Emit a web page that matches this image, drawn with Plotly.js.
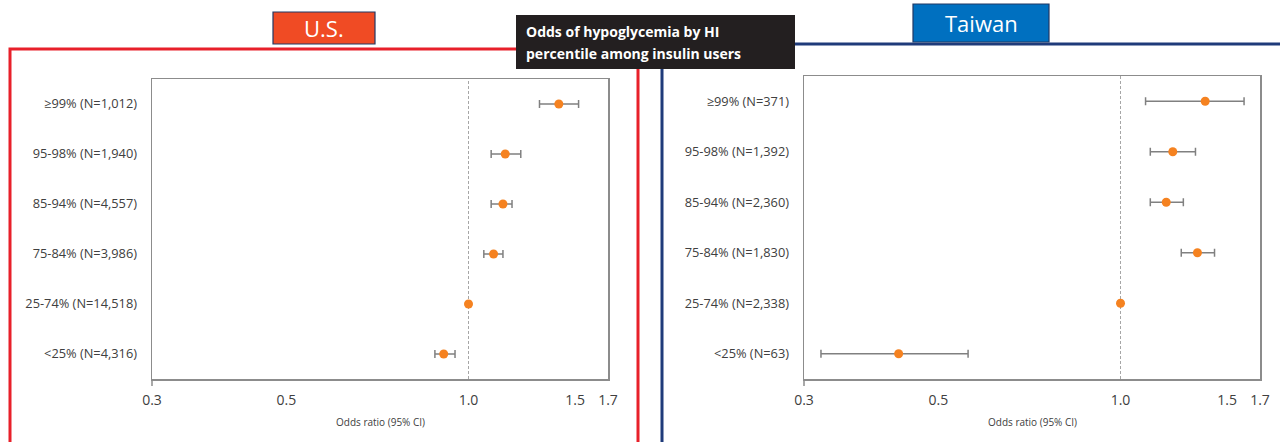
<!DOCTYPE html>
<html>
<head>
<meta charset="utf-8">
<script src="https://cdn.plot.ly/plotly-3.0.1.min.js"></script>
<style>
  html, body { margin: 0; padding: 0; background: #ffffff; }
  #chart { width: 1280px; height: 442px; }
</style>
</head>
<body>
<div id="chart"></div>
<script>
// ---------- data ----------
const categories = ['≥99%', '95-98%', '85-94%', '75-84%', '25-74%', '<25%'];

const usN  = ['1,012', '1,940', '4,557', '3,986', '14,518', '4,316'];
const usOR = [1.41, 1.15, 1.14, 1.10, 1.00, 0.91];
const usLo = [1.31, 1.09, 1.09, 1.06, 1.00, 0.88];
const usHi = [1.52, 1.22, 1.18, 1.14, 1.00, 0.95];

const twN  = ['371', '1,392', '2,360', '1,830', '2,338', '63'];
const twOR = [1.38, 1.22, 1.19, 1.34, 1.00, 0.43];
const twLo = [1.10, 1.12, 1.12, 1.26, 1.00, 0.32];
const twHi = [1.60, 1.33, 1.27, 1.43, 1.00, 0.56];

const refOR = 1.0;
const xTickVals = [0.3, 0.5, 1.0, 1.5, 1.7];
const xTickText = ['0.3', '0.5', '1.0', '1.5', '1.7'];
const xMin = 0.3, xMax = 1.7;
const xTitle = 'Odds ratio (95% CI)';
const panelNames = ['U.S.', 'Taiwan'];
const boxLine1 = 'Odds of hypoglycemia by HI';
const boxLine2 = 'percentile among insulin users';

// ---------- helpers ----------
const W = 1280, H = 442;
const px = v => v / W;
const py = v => 1 - v / H;

const usLabels = categories.map((c, i) => `${c} (N=${usN[i]})`);
const twLabels = categories.map((c, i) => `${c} (N=${twN[i]})`);

const ORANGE = '#f58220';
const GREY = '#808080';
const FRAME = '#8c8c8c';
const TXT = '#404040';
const FONT = 'Open Sans, sans-serif';

function pointTrace(orv, lo, hi, labels, xa, ya) {
  return {
    type: 'scatter', mode: 'markers',
    x: orv, y: labels, xaxis: xa, yaxis: ya,
    marker: { color: ORANGE, size: 9, line: { width: 0 } },
    error_x: {
      type: 'data', symmetric: false,
      array: hi.map((h, i) => h - orv[i]),
      arrayminus: lo.map((l, i) => orv[i] - l),
      color: GREY, thickness: 1.5, width: 4
    },
    hoverinfo: 'x+y', showlegend: false, cliponaxis: false
  };
}
function refTrace(xa, ya) {
  return {
    type: 'scatter', mode: 'lines',
    x: [refOR, refOR], y: [0, 1], xaxis: xa, yaxis: ya,
    line: { color: '#a6a6a6', width: 1, dash: '3px,2px' },
    hoverinfo: 'skip', showlegend: false
  };
}

const data = [
  refTrace('x', 'y'),
  pointTrace(usOR, usLo, usHi, usLabels, 'x', 'y3'),
  refTrace('x2', 'y2'),
  pointTrace(twOR, twLo, twHi, twLabels, 'x2', 'y4')
];

function xAxis(domain, anchor) {
  return {
    domain: domain, anchor: anchor, type: 'log',
    range: [Math.log10(xMin), Math.log10(xMax)],
    tickmode: 'array', tickvals: xTickVals, ticktext: xTickText,
    ticks: '', ticklabelstandoff: 8,
    tickfont: { family: FONT, size: 14, color: TXT },
    showline: true, mirror: true, linecolor: FRAME, linewidth: 1.5,
    showgrid: false, zeroline: false, fixedrange: true
  };
}
function baseY(domain, anchor) {
  return {
    domain: domain, anchor: anchor, range: [0, 1],
    showticklabels: false, ticks: '',
    showline: true, mirror: true, linecolor: FRAME, linewidth: 1.5,
    showgrid: false, zeroline: false, fixedrange: true
  };
}
function catY(over, anchor, labels) {
  return {
    overlaying: over, anchor: anchor, side: 'left', type: 'category',
    categoryorder: 'array', categoryarray: labels,
    range: [labels.length - 0.5, -0.5],
    ticks: '', ticklabelstandoff: 14,
    tickfont: { family: FONT, size: 12.8, color: TXT },
    showline: false, showgrid: false, zeroline: false, fixedrange: true
  };
}

const usDomX = [px(152), px(608)];
const twDomX = [px(804), px(1260)];

const layout = {
  width: W, height: H,
  margin: { l: 0, r: 0, t: 0, b: 0 },
  paper_bgcolor: '#ffffff', plot_bgcolor: '#ffffff',
  font: { family: FONT, color: TXT },
  showlegend: false,
  xaxis: xAxis(usDomX, 'y'),
  yaxis: baseY([py(379), py(79)], 'x'),
  yaxis3: catY('y', 'x', usLabels),
  xaxis2: xAxis(twDomX, 'y2'),
  yaxis2: baseY([py(379), py(76)], 'x2'),
  yaxis4: catY('y2', 'x2', twLabels),
  shapes: [
    // red panel border (U.S.)
    { type: 'rect', xref: 'paper', yref: 'paper',
      x0: px(10), x1: px(638), y0: py(49), y1: py(470),
      line: { color: '#e8202a', width: 3 }, fillcolor: 'rgba(0,0,0,0)', layer: 'below' },
    // navy panel border (Taiwan)
    { type: 'line', xref: 'paper', yref: 'paper',
      x0: px(662), x1: px(662), y0: py(44), y1: py(470),
      line: { color: '#1f3b7a', width: 3 }, layer: 'below' },
    { type: 'line', xref: 'paper', yref: 'paper',
      x0: px(661), x1: px(1290), y0: py(44), y1: py(44),
      line: { color: '#1f3b7a', width: 3 }, layer: 'below' },
    // small extension of left axis below the frame
    { type: 'line', xref: 'paper', yref: 'paper',
      x0: px(152), x1: px(152), y0: py(379), y1: py(386),
      line: { color: FRAME, width: 1.5 } },
    { type: 'line', xref: 'paper', yref: 'paper',
      x0: px(804), x1: px(804), y0: py(379), y1: py(386),
      line: { color: FRAME, width: 1.5 } },
    // black caption box
    { type: 'rect', xref: 'paper', yref: 'paper',
      x0: px(516), x1: px(795), y0: py(15), y1: py(69),
      line: { width: 0 }, fillcolor: '#231f20' },
    // U.S. tag
    { type: 'rect', xref: 'paper', yref: 'paper',
      x0: px(273), x1: px(375), y0: py(12), y1: py(44),
      line: { color: '#203864', width: 1.2 }, fillcolor: '#f04b24' },
    // Taiwan tag
    { type: 'rect', xref: 'paper', yref: 'paper',
      x0: px(913), x1: px(1049), y0: py(4), y1: py(42),
      line: { color: '#203864', width: 1.2 }, fillcolor: '#0070c0' }
  ],
  annotations: [
    { xref: 'paper', yref: 'paper', x: px(324), y: py(28), text: panelNames[0],
      showarrow: false, xanchor: 'center', yanchor: 'middle',
      font: { family: FONT, size: 22, color: '#ffffff' } },
    { xref: 'paper', yref: 'paper', x: px(981), y: py(23), text: panelNames[1],
      showarrow: false, xanchor: 'center', yanchor: 'middle',
      font: { family: FONT, size: 22, color: '#ffffff' } },
    { xref: 'paper', yref: 'paper', x: px(524), y: py(32), text: '<b>' + boxLine1 + '</b>',
      showarrow: false, xanchor: 'left', yanchor: 'middle', align: 'left',
      font: { family: FONT, size: 14, color: '#ffffff' } },
    { xref: 'paper', yref: 'paper', x: px(524), y: py(53), text: '<b>' + boxLine2 + '</b>',
      showarrow: false, xanchor: 'left', yanchor: 'middle', align: 'left',
      font: { family: FONT, size: 14, color: '#ffffff' } },
    { xref: 'paper', yref: 'paper', x: (usDomX[0] + usDomX[1]) / 2, y: py(422), text: xTitle,
      showarrow: false, xanchor: 'center', yanchor: 'middle',
      font: { family: FONT, size: 10, color: TXT } },
    { xref: 'paper', yref: 'paper', x: (twDomX[0] + twDomX[1]) / 2, y: py(422), text: xTitle,
      showarrow: false, xanchor: 'center', yanchor: 'middle',
      font: { family: FONT, size: 10, color: TXT } }
  ]
};

Plotly.newPlot('chart', data, layout, { displayModeBar: false, staticPlot: true });
</script>
</body>
</html>
